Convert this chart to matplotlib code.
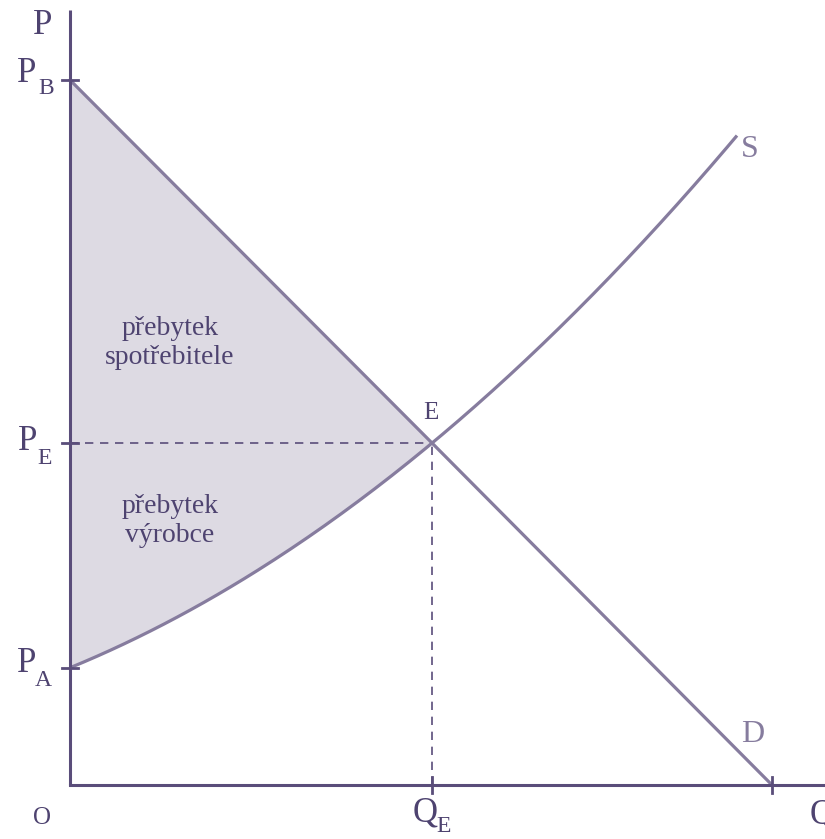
import matplotlib
matplotlib.use("Agg")
import matplotlib.pyplot as plt
import numpy as np

# values (axis units: price P, quantity Q)
P_B = 7.05
P_E = 3.42
P_A = 1.17
Q_E = 3.62
Q_D = 7.02
# supply curve points
supply_Q = [0.0, 1.0, 2.0, 3.0, 3.62, 4.5, 5.5, 6.67]
supply_P = [1.17, 1.64, 2.23, 2.93, 3.42, 4.19, 5.18, 6.50]
demand_Q = [0.0, Q_E, Q_D]
demand_P = [P_B, P_E, 0.0]

axis_col = "#5a4d7a"
curve_col = "#867c9e"
fill_col = "#dddae3"
text_col = "#4e4370"
font = "Liberation Serif"

fig = plt.figure(figsize=(8.25, 8.39), dpi=100)
ax = fig.add_axes([0, 0, 1, 1])
ax.set_xlim(-0.70, 7.55)
ax.set_ylim(-0.54, 7.85)
ax.axis("off")

# smooth supply through read points
c = np.polyfit(supply_Q, supply_P, 2)
qs = np.linspace(0, supply_Q[-1], 200)
ps = np.polyval(c, qs)

# shaded surplus region
qf = np.linspace(0, Q_E, 200)
dem_f = np.interp(qf, demand_Q, demand_P)
sup_f = np.polyval(c, qf)
ax.fill_between(qf, sup_f, dem_f, color=fill_col, lw=0, zorder=1)

# curves
ax.plot(qs, ps, color=curve_col, lw=2.3, zorder=3, solid_capstyle="butt")
ax.plot(demand_Q, demand_P, color=curve_col, lw=2.3, zorder=3)

# dashed guides
ax.plot([0, Q_E], [P_E, P_E], color=axis_col, lw=1.2, ls=(0, (5, 4)), zorder=2)
ax.plot([Q_E, Q_E], [0, P_E], color=axis_col, lw=1.2, ls=(0, (5, 4)), zorder=2)

# axes
ax.plot([0, 0], [0, 7.75], color=axis_col, lw=2.2, zorder=4, solid_capstyle="butt")
ax.plot([0, 7.6], [0, 0], color=axis_col, lw=2.2, zorder=4, solid_capstyle="projecting")

# ticks
for p in [P_B, P_E, P_A]:
    ax.plot([-0.08, 0.08], [p, p], color=axis_col, lw=2.0, zorder=4)
for q in [Q_E, Q_D]:
    ax.plot([q, q], [-0.08, 0.08], color=axis_col, lw=2.0, zorder=4)

def lab(x, y, s, size, col=text_col):
    ax.text(x, y, s, fontsize=size, color=col, family=font, ha="center", va="center", zorder=5)

# axis labels
lab(-0.27, 7.60, "P", 25)
lab(-0.43, 7.12, "P", 25); lab(-0.24, 6.97, "B", 17)
lab(-0.42, 3.44, "P", 25); lab(-0.25, 3.27, "E", 17)
lab(-0.43, 1.22, "P", 25); lab(-0.27, 1.04, "A", 17)
lab(-0.28, -0.33, "O", 18)
lab(3.55, -0.28, "Q", 25); lab(3.74, -0.42, "E", 17)
lab(7.52, -0.30, "Q", 25)

# curve labels
lab(3.61, 3.72, "E", 18)
lab(6.80, 6.36, "S", 23, curve_col)
lab(6.83, 0.50, "D", 23, curve_col)

# region labels
ax.text(1.00, 4.42, "přebytek\nspotřebitele", fontsize=20, color=text_col, family=font,
        ha="center", va="center", linespacing=1.25, zorder=5)
ax.text(1.00, 2.64, "přebytek\nvýrobce", fontsize=20, color=text_col, family=font,
        ha="center", va="center", linespacing=1.25, zorder=5)

fig.savefig("out.png", dpi=100)
